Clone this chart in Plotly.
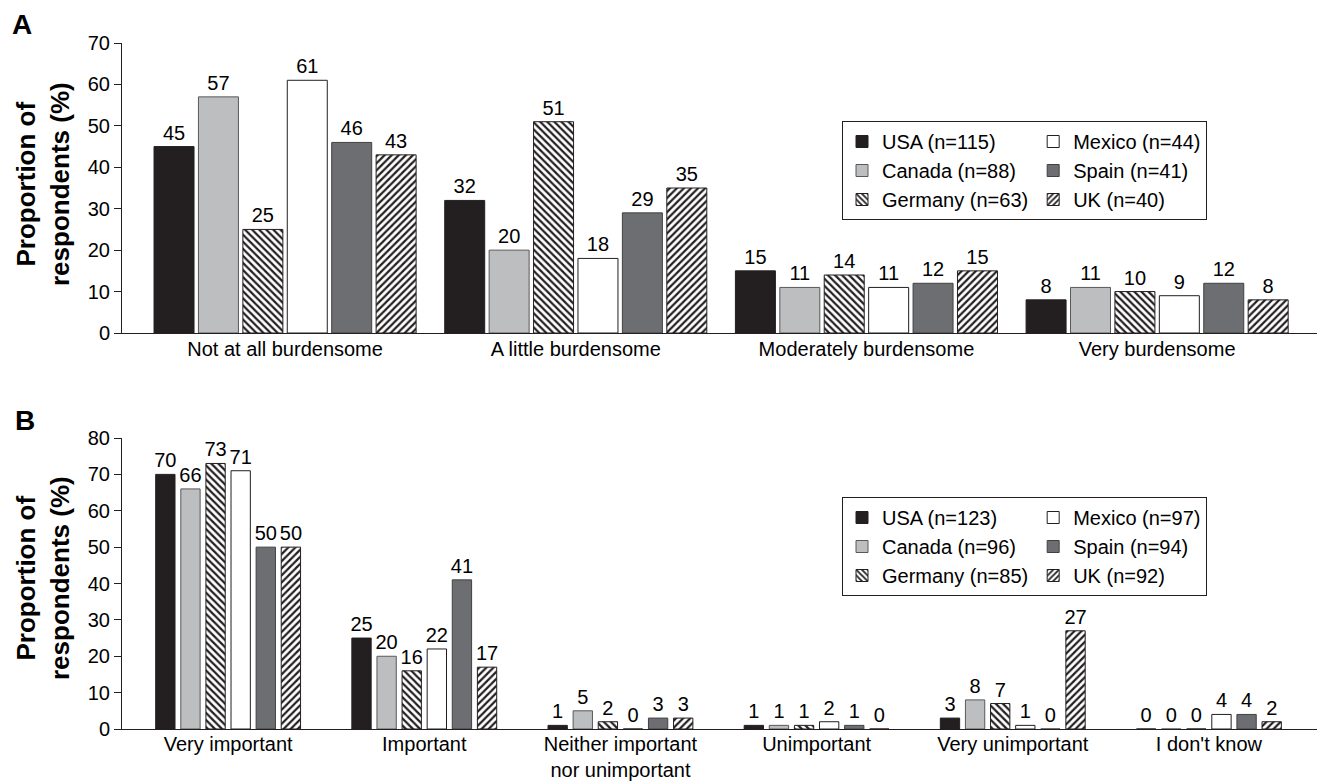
import plotly.graph_objects as go

# ---------------- data ----------------
countries = ["USA", "Canada", "Germany", "Mexico", "Spain", "UK"]
n_a = [115, 88, 63, 44, 41, 40]
n_b = [123, 96, 85, 97, 94, 92]

cats_a = ["Not at all burdensome", "A little burdensome",
          "Moderately burdensome", "Very burdensome"]
usa_a = [45, 32, 15, 8]
canada_a = [57, 20, 11, 11]
germany_a = [25, 51, 14, 10]
mexico_a = [61, 18, 11, 9]
spain_a = [46, 29, 12, 12]
uk_a = [43, 35, 15, 8]

cats_b = ["Very important", "Important", "Neither important<br>nor unimportant",
          "Unimportant", "Very unimportant", "I don't know"]
usa_b = [70, 25, 1, 1, 3, 0]
canada_b = [66, 20, 5, 1, 8, 0]
germany_b = [73, 16, 2, 1, 7, 0]
mexico_b = [71, 22, 0, 2, 1, 4]
spain_b = [50, 41, 3, 1, 0, 4]
uk_b = [50, 17, 3, 0, 27, 2]

yticks_a = [0, 10, 20, 30, 40, 50, 60, 70]
yticks_b = [0, 10, 20, 30, 40, 50, 60, 70, 80]

# ---------------- styles ----------------
FONT = "Liberation Sans, Arial, Helvetica, sans-serif"
FS = 20
BLACK = "#231f20"
styles = {
    "USA": dict(color=BLACK, line=BLACK, pattern=None),
    "Canada": dict(color="#bcbec0", line="#58595b", pattern=None),
    "Germany": dict(color="white", line=BLACK, pattern="\\"),
    "Mexico": dict(color="white", line=BLACK, pattern=None),
    "Spain": dict(color="#6d6e71", line="#414042", pattern=None),
    "UK": dict(color="white", line=BLACK, pattern="/"),
}
groups_col = {"USA": 1, "Canada": 1, "Germany": 1, "Mexico": 2, "Spain": 2, "UK": 2}

W, H = 1318, 783
ML, MR = 122, 1

# bar geometry (in category units)
pitch_a, width_a = 0.1528, 0.1376
pitch_b, width_b = 0.128, 0.0985

fig = go.Figure()


def add_panel(cats, series, ns, xa, ya, legend, pitch, bw, grp):
    for i, (name, vals, n) in enumerate(zip(countries, series, ns)):
        st = styles[name]
        marker = dict(color=st["color"], line=dict(color=st["line"], width=1))
        if st["pattern"]:
            marker["pattern"] = dict(shape=st["pattern"], fgcolor=BLACK,
                                     bgcolor="white", size=5, solidity=0.45,
                                     fillmode="replace")
        fig.add_trace(go.Bar(
            x=cats, y=vals, name=f"{name} (n={n})",
            xaxis=xa, yaxis=ya, legend=legend,
            legendgroup=f"{grp}{groups_col[name]}",
            marker=marker,
            width=bw, offset=(i - 2.5) * pitch - bw / 2,
            text=[str(v) for v in vals], textposition="outside",
            textfont=dict(size=FS, color="black", family=FONT),
            constraintext="none", cliponaxis=False,
            hoverinfo="x+y+name",
        ))


add_panel(cats_a, [usa_a, canada_a, germany_a, mexico_a, spain_a, uk_a],
          n_a, "x", "y", "legend", pitch_a, width_a, "a")
add_panel(cats_b, [usa_b, canada_b, germany_b, mexico_b, spain_b, uk_b],
          n_b, "x2", "y2", "legend2", pitch_b, width_b, "b")


def py(px):
    return 1 - px / H


def pxx(px):
    return (px - ML) / (W - ML - MR)


axis_common = dict(showgrid=False, zeroline=False, showline=True,
                   linecolor=BLACK, linewidth=1,
                   tickfont=dict(size=FS, color="black", family=FONT))

legend_common = dict(orientation="h", traceorder="grouped", tracegroupgap=0,
                     bgcolor="white", bordercolor=BLACK, borderwidth=1,
                     font=dict(size=FS, color="black", family=FONT),
                     xanchor="left", yanchor="top", itemclick=False)

fig.update_layout(
    width=W, height=H,
    margin=dict(l=ML, r=MR, t=0, b=0, autoexpand=False),
    paper_bgcolor="white", plot_bgcolor="white",
    font=dict(family=FONT, size=FS, color="black"),
    barmode="overlay",
    showlegend=True,
    xaxis=dict(axis_common, domain=[0, 1], anchor="y", type="category",
               range=[-0.561, 3.55], ticks="", categoryorder="array",
               categoryarray=cats_a, ticklabelstandoff=-2),
    yaxis=dict(axis_common, domain=[py(333), py(43)], anchor="x",
               range=[0, 70], tickvals=yticks_a, ticks="outside",
               ticklen=7, tickcolor=BLACK),
    xaxis2=dict(axis_common, domain=[0, 1], anchor="y2", type="category",
                range=[-0.541, 5.551], ticks="", categoryorder="array",
                categoryarray=cats_b, ticklabelstandoff=-3),
    yaxis2=dict(axis_common, domain=[py(729), py(438)], anchor="x2",
                range=[0, 80], tickvals=yticks_b, ticks="outside",
                ticklen=7, tickcolor=BLACK),
    legend=dict(legend_common, x=pxx(842), y=py(121)),
    legend2=dict(legend_common, x=pxx(842), y=py(497)),
    annotations=[
        dict(text="<b>A</b>", x=pxx(22), y=py(24), xref="paper", yref="paper",
             showarrow=False, xanchor="center", yanchor="middle",
             font=dict(size=28, family=FONT, color="black")),
        dict(text="<b>B</b>", x=pxx(25), y=py(420), xref="paper", yref="paper",
             showarrow=False, xanchor="center", yanchor="middle",
             font=dict(size=28, family=FONT, color="black")),
        dict(text="<b>Proportion of<br>respondents (%)</b>", textangle=-90,
             x=pxx(43), y=py(184), xref="paper", yref="paper",
             showarrow=False, xanchor="center", yanchor="middle",
             font=dict(size=26, family=FONT, color="black")),
        dict(text="<b>Proportion of<br>respondents (%)</b>", textangle=-90,
             x=pxx(43), y=py(578), xref="paper", yref="paper",
             showarrow=False, xanchor="center", yanchor="middle",
             font=dict(size=26, family=FONT, color="black")),
    ],
)

fig.write_html("out.html", config={"displayModeBar": False},
               post_script="document.body.style.margin='0px';")
